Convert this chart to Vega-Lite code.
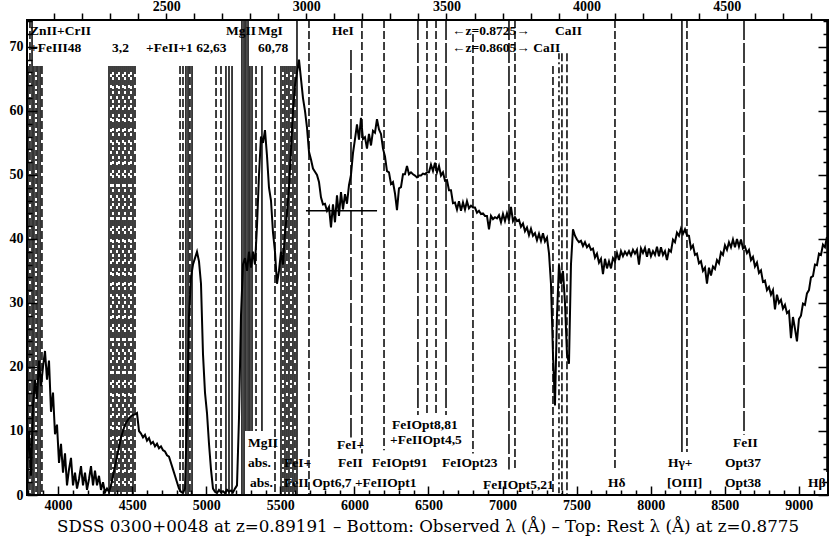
{
"$schema": "https://vega.github.io/schema/vega-lite/v6.json",
"width": 801, "height": 475,
"autosize": {"type": "none"},
"padding": {"left": 27, "top": 20, "right": 2, "bottom": 47},
"background": "white",
"config": {
  "view": {"stroke": "black", "strokeWidth": 2},
  "axis": {"domain": false, "grid": false, "ticks": true, "tickColor": "black", "tickWidth": 1.5, "labelColor": "black", "labelFont": "Liberation Serif", "labelFontWeight": "bold", "labelFontSize": 14, "titleColor": "black", "labelOverlap": false, "labelFlush": false}
},
"datasets": {
"spec": [
{"w":3790,"f":5},{"w":3803.5,"f":10},{"w":3817,"f":3},{"w":3830.5,"f":14},{"w":3844,"f":18},{"w":3857.5,"f":15},{"w":3871,"f":21},{"w":3884.5,"f":17},{"w":3898,"f":20},{"w":3911.5,"f":22.5},
{"w":3925,"f":18},{"w":3938.5,"f":21},{"w":3952,"f":13},{"w":3965.5,"f":16},{"w":3979,"f":9.5},{"w":3992.5,"f":11},{"w":4006,"f":5},{"w":4019.5,"f":8},{"w":4033,"f":3.5},{"w":4046.5,"f":6.5},
{"w":4060,"f":1.5},{"w":4073.5,"f":4},{"w":4087,"f":5.8},{"w":4100.5,"f":1.5},{"w":4114,"f":3.5},{"w":4127.5,"f":1},{"w":4141,"f":2.5},{"w":4154.5,"f":4.5},{"w":4168,"f":1.5},{"w":4181.5,"f":3.5},
{"w":4195,"f":0.8},{"w":4208.5,"f":2.5},{"w":4222,"f":4.5},{"w":4235.5,"f":1.5},{"w":4249,"f":3.8},{"w":4262.5,"f":1.5},{"w":4276,"f":3},{"w":4289.5,"f":0.8},{"w":4303,"f":2},{"w":4316.5,"f":0.4},
{"w":4330,"f":1},{"w":4343.5,"f":0.5},{"w":4357,"f":1.5},{"w":4370.5,"f":3},{"w":4384,"f":4.5},{"w":4397.5,"f":6},{"w":4411,"f":7.5},{"w":4424.5,"f":9},{"w":4438,"f":10},{"w":4451.5,"f":11},
{"w":4465,"f":11.5},{"w":4478.5,"f":12},{"w":4492,"f":12.3},{"w":4505.5,"f":12.5},{"w":4519,"f":12.6},{"w":4532.5,"f":12.8},{"w":4546,"f":10},{"w":4559.5,"f":9.6},{"w":4573,"f":9},{"w":4586.5,"f":9.4},
{"w":4600,"f":8.5},{"w":4613.5,"f":8.9},{"w":4627,"f":8},{"w":4640.5,"f":8.3},{"w":4654,"f":7.6},{"w":4667.5,"f":8},{"w":4681,"f":7.3},{"w":4694.5,"f":7.6},{"w":4708,"f":7},{"w":4721.5,"f":6.8},
{"w":4735,"f":6.2},{"w":4748.5,"f":6},{"w":4762,"f":5},{"w":4775.5,"f":4},{"w":4789,"f":3},{"w":4802.5,"f":2},{"w":4816,"f":1},{"w":4829.5,"f":0.5},{"w":4843,"f":0.3},{"w":4856.5,"f":1},
{"w":4870,"f":12},{"w":4883.5,"f":28},{"w":4897,"f":34},{"w":4910.5,"f":36},{"w":4924,"f":37},{"w":4937.5,"f":38},{"w":4951,"f":36.5},{"w":4964.5,"f":33},{"w":4978,"f":22},{"w":4991.5,"f":16},
{"w":5005,"f":12.8},{"w":5018.5,"f":8},{"w":5032,"f":4},{"w":5045.5,"f":1},{"w":5059,"f":0.5},{"w":5072.5,"f":0.3},{"w":5086,"f":0.8},{"w":5099.5,"f":0.4},{"w":5113,"f":0.6},{"w":5126.5,"f":0.3},
{"w":5140,"f":0.8},{"w":5153.5,"f":0.5},{"w":5167,"f":0.7},{"w":5180.5,"f":0.4},{"w":5194,"f":1},{"w":5207.5,"f":1.5},{"w":5221,"f":12},{"w":5234.5,"f":28},{"w":5248,"f":36},{"w":5261.5,"f":37},
{"w":5275,"f":35},{"w":5288.5,"f":38},{"w":5302,"f":35.5},{"w":5315.5,"f":38},{"w":5329,"f":36},{"w":5342.5,"f":42},{"w":5356,"f":50},{"w":5369.5,"f":56},{"w":5383,"f":55},{"w":5396.5,"f":57},
{"w":5410,"f":53},{"w":5423.5,"f":48},{"w":5437,"f":46},{"w":5450.5,"f":41},{"w":5464,"f":38},{"w":5477.5,"f":33},{"w":5491,"f":35},{"w":5504.5,"f":38},{"w":5518,"f":36},{"w":5531.5,"f":41},
{"w":5545,"f":44},{"w":5558.5,"f":48},{"w":5572,"f":54},{"w":5585.5,"f":60},{"w":5599,"f":64},{"w":5612.5,"f":66},{"w":5626,"f":68},{"w":5639.5,"f":65},{"w":5653,"f":62},{"w":5666.5,"f":60},
{"w":5680,"f":57.4},{"w":5693.5,"f":53.6},{"w":5707,"f":52.4},{"w":5720.5,"f":51},{"w":5734,"f":50.5},{"w":5747.5,"f":50},{"w":5761,"f":48.9},{"w":5774.5,"f":46.5},{"w":5788,"f":45.4},{"w":5801.5,"f":45.5},
{"w":5815,"f":44.4},{"w":5828.5,"f":45},{"w":5842,"f":41.8},{"w":5855.5,"f":45.4},{"w":5869,"f":42.6},{"w":5882.5,"f":46.8},{"w":5896,"f":43.6},{"w":5909.5,"f":47.3},{"w":5923,"f":44.6},{"w":5936.5,"f":47},
{"w":5950,"f":45.5},{"w":5963.5,"f":48.4},{"w":5977,"f":50},{"w":5990.5,"f":53.4},{"w":6004,"f":55.6},{"w":6017.5,"f":57.9},{"w":6031,"f":55.5},{"w":6044.5,"f":58.9},{"w":6058,"f":55.6},{"w":6071.5,"f":55.9},
{"w":6085,"f":54.1},{"w":6098.5,"f":56.4},{"w":6112,"f":54.6},{"w":6125.5,"f":56.9},{"w":6139,"f":56.6},{"w":6152.5,"f":58.7},{"w":6166,"f":57.1},{"w":6179.5,"f":56.4},{"w":6193,"f":54.1},{"w":6206.5,"f":52.9},
{"w":6220,"f":50.6},{"w":6233.5,"f":50.4},{"w":6247,"f":48.6},{"w":6260.5,"f":48.9},{"w":6274,"f":47.1},{"w":6287.5,"f":44.5},{"w":6301,"f":47.9},{"w":6314.5,"f":48.1},{"w":6328,"f":50.1},{"w":6341.5,"f":50.1},
{"w":6355,"f":51.4},{"w":6368.5,"f":50.1},{"w":6382,"f":50.4},{"w":6395.5,"f":50.1},{"w":6409,"f":49.9},{"w":6422.5,"f":49.6},{"w":6436,"f":49.9},{"w":6449.5,"f":49.9},{"w":6463,"f":50.2},{"w":6476.5,"f":50.1},
{"w":6490,"f":50.4},{"w":6503.5,"f":50.4},{"w":6517,"f":51.6},{"w":6530.5,"f":50.6},{"w":6544,"f":51.9},{"w":6557.5,"f":50.4},{"w":6571,"f":51.4},{"w":6584.5,"f":49.9},{"w":6598,"f":50.4},{"w":6611.5,"f":49.1},
{"w":6625,"f":49.2},{"w":6638.5,"f":47.6},{"w":6652,"f":47.6},{"w":6665.5,"f":45.6},{"w":6679,"f":45.7},{"w":6692.5,"f":44.6},{"w":6706,"f":45.9},{"w":6719.5,"f":44.4},{"w":6733,"f":45.7},{"w":6746.5,"f":44.6},
{"w":6760,"f":45.9},{"w":6773.5,"f":44.8},{"w":6787,"f":45.2},{"w":6800.5,"f":44.9},{"w":6814,"f":44.9},{"w":6827.5,"f":44.1},{"w":6841,"f":44.4},{"w":6854.5,"f":43.9},{"w":6868,"f":44},{"w":6881.5,"f":43.6},
{"w":6895,"f":43.6},{"w":6908.5,"f":41.5},{"w":6922,"f":43.6},{"w":6935.5,"f":43.1},{"w":6949,"f":43.4},{"w":6962.5,"f":43.2},{"w":6976,"f":43.7},{"w":6989.5,"f":42.6},{"w":7003,"f":43.9},{"w":7016.5,"f":42.8},
{"w":7030,"f":44},{"w":7043.5,"f":42.9},{"w":7057,"f":45},{"w":7070.5,"f":42.8},{"w":7084,"f":43.4},{"w":7097.5,"f":42.8},{"w":7111,"f":43},{"w":7124.5,"f":41.9},{"w":7138,"f":42.4},{"w":7151.5,"f":41.2},
{"w":7165,"f":41.8},{"w":7178.5,"f":40.6},{"w":7192,"f":41.6},{"w":7205.5,"f":40.5},{"w":7219,"f":40.9},{"w":7232.5,"f":39.8},{"w":7246,"f":40.8},{"w":7259.5,"f":39.7},{"w":7273,"f":40.9},{"w":7286.5,"f":39.6},
{"w":7300,"f":40.2},{"w":7313.5,"f":37.8},{"w":7327,"f":33},{"w":7340.5,"f":22},{"w":7354,"f":14},{"w":7367.5,"f":28},{"w":7381,"f":36},{"w":7394.5,"f":33},{"w":7408,"f":35},{"w":7421.5,"f":30},
{"w":7435,"f":22},{"w":7448.5,"f":20.5},{"w":7462,"f":36},{"w":7475.5,"f":41.5},{"w":7489,"f":40.5},{"w":7502.5,"f":39.9},{"w":7516,"f":39.5},{"w":7529.5,"f":39.7},{"w":7543,"f":38.9},{"w":7556.5,"f":39.5},
{"w":7570,"f":38.7},{"w":7583.5,"f":39.1},{"w":7597,"f":38.3},{"w":7610.5,"f":38.5},{"w":7624,"f":37.1},{"w":7637.5,"f":37.7},{"w":7651,"f":36.3},{"w":7664.5,"f":36.9},{"w":7678,"f":34.5},{"w":7691.5,"f":36.9},
{"w":7705,"f":35.4},{"w":7718.5,"f":36.5},{"w":7732,"f":35.4},{"w":7745.5,"f":37},{"w":7759,"f":36.5},{"w":7772.5,"f":37.8},{"w":7786,"f":36.7},{"w":7799.5,"f":38.1},{"w":7813,"f":37.3},{"w":7826.5,"f":38},
{"w":7840,"f":37.5},{"w":7853.5,"f":38.1},{"w":7867,"f":37.4},{"w":7880.5,"f":38.3},{"w":7894,"f":37.7},{"w":7907.5,"f":38.3},{"w":7921,"f":36},{"w":7934.5,"f":38.5},{"w":7948,"f":37.8},{"w":7961.5,"f":38.6},
{"w":7975,"f":37.2},{"w":7988.5,"f":38.5},{"w":8002,"f":37.3},{"w":8015.5,"f":38.1},{"w":8029,"f":37.5},{"w":8042.5,"f":38.8},{"w":8056,"f":37.3},{"w":8069.5,"f":38.7},{"w":8083,"f":37.5},{"w":8096.5,"f":38.1},
{"w":8110,"f":36.7},{"w":8123.5,"f":38.3},{"w":8137,"f":38},{"w":8150.5,"f":39.9},{"w":8164,"f":39.5},{"w":8177.5,"f":41},{"w":8191,"f":40.5},{"w":8204.5,"f":41.6},{"w":8218,"f":40.8},{"w":8231.5,"f":41.5},
{"w":8245,"f":40.6},{"w":8258.5,"f":40.5},{"w":8272,"f":38.5},{"w":8285.5,"f":39},{"w":8299,"f":37.5},{"w":8312.5,"f":37.7},{"w":8326,"f":36.2},{"w":8339.5,"f":36.5},{"w":8353,"f":35},{"w":8366.5,"f":35.5},
{"w":8380,"f":33},{"w":8393.5,"f":35.5},{"w":8407,"f":34.3},{"w":8420.5,"f":35.7},{"w":8434,"f":35.3},{"w":8447.5,"f":36.7},{"w":8461,"f":36.2},{"w":8474.5,"f":37.9},{"w":8488,"f":37.5},{"w":8501.5,"f":39},
{"w":8515,"f":38.3},{"w":8528.5,"f":39.5},{"w":8542,"f":38.7},{"w":8555.5,"f":39.9},{"w":8569,"f":38.7},{"w":8582.5,"f":40},{"w":8596,"f":38.8},{"w":8609.5,"f":39.9},{"w":8623,"f":38.5},{"w":8636.5,"f":38.8},
{"w":8650,"f":37.8},{"w":8663.5,"f":38.3},{"w":8677,"f":36.7},{"w":8690.5,"f":37.2},{"w":8704,"f":35.7},{"w":8717.5,"f":36.3},{"w":8731,"f":34.7},{"w":8744.5,"f":35.1},{"w":8758,"f":33.3},{"w":8771.5,"f":33.5},
{"w":8785,"f":32},{"w":8798.5,"f":32.5},{"w":8812,"f":31.3},{"w":8825.5,"f":32},{"w":8839,"f":29},{"w":8852.5,"f":31.3},{"w":8866,"f":30},{"w":8879.5,"f":30.5},{"w":8893,"f":29.1},{"w":8906.5,"f":29.7},
{"w":8920,"f":28.4},{"w":8933.5,"f":28.7},{"w":8947,"f":24.5},{"w":8960.5,"f":27.8},{"w":8974,"f":26},{"w":8987.5,"f":24},{"w":9001,"f":27.5},{"w":9014.5,"f":28},{"w":9028,"f":29.9},{"w":9041.5,"f":29.7},
{"w":9055,"f":31.5},{"w":9068.5,"f":32},{"w":9082,"f":34},{"w":9095.5,"f":34.2},{"w":9109,"f":36},{"w":9122.5,"f":35.9},{"w":9136,"f":37.7},{"w":9149.5,"f":37.5},{"w":9163,"f":39.1},{"w":9176.5,"f":38.7},
{"w":9190,"f":40.3}
],
"lines": [
{"w":3797,"t":67,"b":0,"s":"solid"},{"w":3810,"t":74.2,"b":0,"s":"dash"},{"w":3824,"t":74.2,"b":0,"s":"solid"},{"w":3837,"t":67,"b":0,"s":"solid"},{"w":3851,"t":67,"b":0,"s":"dot"},{"w":3864,"t":67,"b":0,"s":"solid"},{"w":3878,"t":67,"b":0,"s":"solid"},{"w":3891,"t":67,"b":0,"s":"dash"},
{"w":4343.5,"t":67,"b":0,"s":"solid"},{"w":4357,"t":67,"b":0,"s":"dash"},{"w":4370.5,"t":67,"b":0,"s":"dot"},{"w":4384,"t":67,"b":0,"s":"solid"},{"w":4397.5,"t":67,"b":0,"s":"dash"},{"w":4411,"t":67,"b":0,"s":"dot"},{"w":4424.5,"t":67,"b":0,"s":"solid"},{"w":4438,"t":67,"b":0,"s":"dash"},{"w":4451.5,"t":67,"b":0,"s":"dot"},{"w":4465,"t":67,"b":0,"s":"solid"},{"w":4478.5,"t":67,"b":0,"s":"dash"},{"w":4492,"t":67,"b":0,"s":"dot"},{"w":4505.5,"t":67,"b":0,"s":"solid"},{"w":4519,"t":67,"b":0,"s":"dash"},
{"w":4823,"t":67,"b":0,"s":"dash"},{"w":4843,"t":67,"b":0,"s":"dash"},{"w":4863,"t":67,"b":0,"s":"solid"},{"w":4877,"t":67,"b":0,"s":"solid"},{"w":4890,"t":67,"b":0,"s":"dash"},{"w":4904,"t":67,"b":0,"s":"solid"},
{"w":5066,"t":67,"b":0,"s":"dash"},{"w":5099.5,"t":67,"b":0,"s":"dash"},{"w":5133,"t":67,"b":0,"s":"solid"},{"w":5153.5,"t":67,"b":0,"s":"solid"},{"w":5174,"t":67,"b":0,"s":"solid"},
{"w":5241,"t":74.2,"b":0,"s":"solid"},{"w":5255,"t":74.2,"b":0,"s":"solid"},{"w":5268,"t":74.2,"b":10,"s":"solid"},{"w":5282,"t":74.2,"b":10,"s":"solid"},{"w":5295,"t":67,"b":10,"s":"solid"},{"w":5309,"t":67,"b":10,"s":"solid"},
{"w":5336,"t":67,"b":10,"s":"dash"},{"w":5376,"t":67,"b":10,"s":"solid"},{"w":5464,"t":67,"b":0,"s":"dash"},
{"w":5504.5,"t":67,"b":0,"s":"solid"},{"w":5518,"t":67,"b":0,"s":"dot"},{"w":5531.5,"t":67,"b":0,"s":"solid"},{"w":5545,"t":67,"b":0,"s":"dash"},{"w":5558.5,"t":67,"b":0,"s":"solid"},{"w":5572,"t":67,"b":0,"s":"dot"},{"w":5585.5,"t":67,"b":0,"s":"solid"},{"w":5599,"t":67,"b":0,"s":"dash"},{"w":5612.5,"t":74.2,"b":0,"s":"solid"},
{"w":5693.5,"t":74.2,"b":0,"s":"dash"},{"w":5977,"t":69.5,"b":9,"s":"long"},{"w":6051,"t":74.2,"b":6.5,"s":"dash"},{"w":6200,"t":74.2,"b":7,"s":"dash"},
{"w":6429,"t":74.2,"b":12.5,"s":"long"},{"w":6490,"t":74.2,"b":12.5,"s":"dash"},{"w":6551,"t":74.2,"b":12.5,"s":"dash"},{"w":6618.5,"t":74.2,"b":12.5,"s":"long"},
{"w":6800.5,"t":72,"b":6.5,"s":"dash"},{"w":7043.5,"t":74.2,"b":4,"s":"long"},{"w":7084,"t":74.2,"b":4,"s":"dash"},
{"w":7340.5,"t":67,"b":0,"s":"dash"},{"w":7381,"t":69,"b":0,"s":"dot"},{"w":7401,"t":69,"b":0,"s":"dash"},{"w":7435,"t":69,"b":0,"s":"dash"},
{"w":7759,"t":74.2,"b":4,"s":"dash"},{"w":8211,"t":74.2,"b":6.7,"s":"solid"},{"w":8245,"t":74.2,"b":6.7,"s":"dash"},{"w":8630,"t":74.2,"b":9.4,"s":"long"},{"w":9190,"t":74.2,"b":3.6,"s":"solid"}
],
"labels": [
{"w":3810,"f":72.5,"t":"ZnII+CrII"},{"w":5133,"f":72.5,"t":"MgII"},{"w":5349,"f":72.5,"t":"MgI"},{"w":5849,"f":72.5,"t":"HeI"},{"w":6659,"f":72.5,"t":"←z=0.8725→"},{"w":7354,"f":72.5,"t":"CaII"},
{"w":3810,"f":69.8,"t":"+FeIII48"},{"w":4364,"f":69.8,"t":"3,2"},{"w":4593,"f":69.8,"t":"+FeII+1 62,63"},{"w":5349,"f":69.8,"t":"60,78"},{"w":6659,"f":69.8,"t":"←z=0.8605→ CaII"},
{"w":5282,"f":8.1,"t":"MgII"},{"w":5282,"f":5,"t":"abs."},{"w":5295,"f":1.9,"t":"abs."},{"w":5525,"f":5,"t":"FeI+"},{"w":5525,"f":1.9,"t":"FeII Opt6,7 +FeIIOpt1"},
{"w":5882.5,"f":7.8,"t":"FeI+"},{"w":5889,"f":5,"t":"FeII"},{"w":6119,"f":5,"t":"FeIOpt91"},{"w":6591,"f":5,"t":"FeIOpt23"},{"w":6254,"f":10.9,"t":"FeIOpt8,81"},{"w":6240,"f":8.6,"t":"+FeIIOpt4,5"},
{"w":6868,"f":1.6,"t":"FeIIOpt5,21"},{"w":7712,"f":1.9,"t":"Hδ"},{"w":8117,"f":5,"t":"Hγ+"},{"w":8110,"f":1.9,"t":"[OIII]"},{"w":8556,"f":8.1,"t":"FeII"},{"w":8502,"f":5,"t":"Opt37"},{"w":8502,"f":1.9,"t":"Opt38"},{"w":9062,"f":1.9,"t":"Hβ"}
],
"cross": [{"w":5673,"w2":6153,"f":44.4}],
"obs": [{"w":3790,"f":0},{"w":9197,"f":74.2}],
"rest": [{"r":2003.27,"q":0},{"r":4861.26,"q":74.2}]
},
"layer": [
{
"layer": [
{"data": {"name": "lines"}, "mark": {"type": "rule", "color": "black", "strokeWidth": 1.5, "clip": true},
 "encoding": {
  "x": {"field": "w", "type": "quantitative", "scale": {"domain": [3790, 9197], "nice": false, "zero": false}, "axis": null},
  "y": {"field": "t", "type": "quantitative", "scale": {"domain": [0, 74.2], "nice": false, "zero": false}, "axis": null},
  "y2": {"field": "b"},
  "strokeDash": {"field": "s", "type": "nominal", "legend": null,
    "scale": {"domain": ["solid", "dash", "dot", "long"], "range": [[1, 0], [8, 3], [6, 3, 2, 3], [20, 3]]}}
 }},
{"data": {"name": "spec"}, "mark": {"type": "line", "color": "black", "strokeWidth": 2, "clip": true},
 "encoding": {
  "x": {"field": "w", "type": "quantitative", "axis": null},
  "y": {"field": "f", "type": "quantitative", "axis": null}
 }},
{"data": {"name": "cross"}, "mark": {"type": "rule", "color": "black", "strokeWidth": 1.5},
 "encoding": {
  "x": {"field": "w", "type": "quantitative", "axis": null},
  "x2": {"field": "w2"},
  "y": {"field": "f", "type": "quantitative", "axis": null}
 }},
{"data": {"name": "labels"}, "mark": {"type": "text", "align": "left", "baseline": "middle", "font": "Liberation Serif", "fontWeight": "bold", "fontSize": 13.5, "color": "black"},
 "encoding": {
  "x": {"field": "w", "type": "quantitative", "axis": null},
  "y": {"field": "f", "type": "quantitative", "axis": null},
  "text": {"field": "t"}
 }}
]
},
{"data": {"name": "obs"}, "mark": {"type": "point", "opacity": 0},
 "encoding": {
  "x": {"field": "w", "type": "quantitative", "scale": {"domain": [3790, 9197], "nice": false, "zero": false},
    "axis": {"orient": "bottom", "values": [3800,3900,4000,4100,4200,4300,4400,4500,4600,4700,4800,4900,5000,5100,5200,5300,5400,5500,5600,5700,5800,5900,6000,6100,6200,6300,6400,6500,6600,6700,6800,6900,7000,7100,7200,7300,7400,7500,7600,7700,7800,7900,8000,8100,8200,8300,8400,8500,8600,8700,8800,8900,9000,9100],
     "format": "d", "labelExpr": "datum.value % 500 === 0 ? datum.label : ''", "labelOverlap": false,
     "tickSize": {"condition": {"test": "datum.value % 500 === 0", "value": -9}, "value": -5}, "labelPadding": 12,
     "title": "SDSS 0300+0048 at z=0.89191 – Bottom: Observed λ (Å) – Top: Rest λ (Å) at z=0.8775",
     "titleFont": "DejaVu Serif", "titleFontSize": 16.7, "titleFontWeight": "normal", "titlePadding": 2}},
  "y": {"field": "f", "type": "quantitative", "scale": {"domain": [0, 74.2], "nice": false, "zero": false},
    "axis": {"orient": "left", "values": [0,2,4,6,8,10,12,14,16,18,20,22,24,26,28,30,32,34,36,38,40,42,44,46,48,50,52,54,56,58,60,62,64,66,68,70,72,74],
     "format": "d", "labelExpr": "datum.value % 10 === 0 ? datum.label : ''", "labelOverlap": false,
     "tickSize": {"condition": {"test": "datum.value % 10 === 0", "value": -10}, "value": -5}, "labelPadding": 14, "title": null}}
 }},
{"data": {"name": "rest"}, "mark": {"type": "point", "opacity": 0},
 "encoding": {
  "x": {"field": "r", "type": "quantitative", "scale": {"domain": [2003.27, 4861.26], "nice": false, "zero": false},
    "axis": {"orient": "top", "values": [2100,2200,2300,2400,2500,2600,2700,2800,2900,3000,3100,3200,3300,3400,3500,3600,3700,3800,3900,4000,4100,4200,4300,4400,4500,4600,4700,4800],
     "format": "d", "labelExpr": "datum.value % 500 === 0 ? datum.label : ''", "labelOverlap": false, "tickSize": 7, "labelPadding": 0, "title": null}},
  "y": {"field": "q", "type": "quantitative", "scale": {"domain": [0, 74.2], "nice": false, "zero": false},
    "axis": {"orient": "right", "values": [0,2,4,6,8,10,12,14,16,18,20,22,24,26,28,30,32,34,36,38,40,42,44,46,48,50,52,54,56,58,60,62,64,66,68,70,72,74],
     "labels": false, "tickSize": {"condition": {"test": "datum.value % 10 === 0", "value": -10}, "value": -5}, "title": null}}
 }}
],
"resolve": {"scale": {"x": "independent", "y": "independent"}}
}
